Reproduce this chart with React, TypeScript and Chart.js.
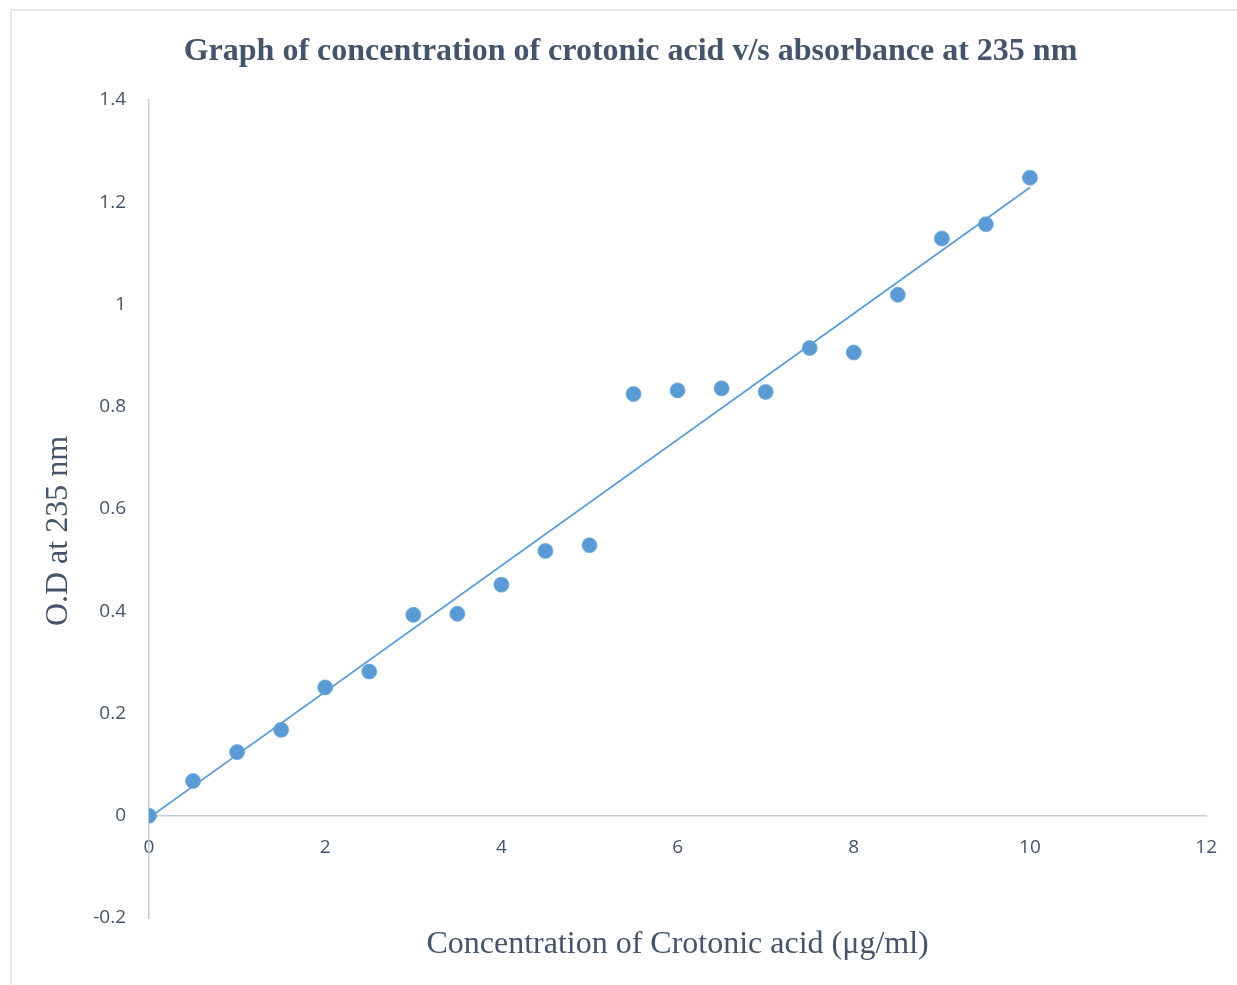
import React, { useEffect, useRef } from "react";
import { Chart, registerables } from "chart.js";

Chart.register(...registerables);

const concentrations = [0, 0.5, 1, 1.5, 2, 2.5, 3, 3.5, 4, 4.5, 5, 5.5, 6, 6.5, 7, 7.5, 8, 8.5, 9, 9.5, 10];
const absorbance = [0, 0.068, 0.1245, 0.168, 0.251, 0.282, 0.393, 0.395, 0.452, 0.518, 0.529, 0.825, 0.832, 0.836, 0.829, 0.915, 0.906, 1.019, 1.129, 1.157, 1.248];
const trendX = [0, 10];
const trendY = [-0.004, 1.229];
const xTicks = [0, 2, 4, 6, 8, 10, 12];
const yTicks = [-0.2, 0, 0.2, 0.4, 0.6, 0.8, 1, 1.2, 1.4];
const yTickLabels = ["-0.2", "0", "0.2", "0.4", "0.6", "0.8", "1", "1.2", "1.4"];

const chartTitle = "Graph of concentration of crotonic acid v/s absorbance at 235 nm";
const xTitle = "Concentration of Crotonic acid (\u03bcg/ml)";
const yTitle = "O.D at 235 nm";

const TEXT = "#44546a";
const BLUE = "#5b9bd5";
const AXIS = "#c3cad6";

export default function App() {
  const ref = useRef<HTMLCanvasElement | null>(null);

  useEffect(() => {
    document.body.style.margin = "0";
    const canvas = ref.current;
    if (!canvas) return;

    const textPlugin = {
      id: "textPlugin",
      beforeDraw(chart: any) {
        const ctx = chart.ctx;
        ctx.save();
        ctx.fillStyle = "#ffffff";
        ctx.fillRect(0, 0, chart.width, chart.height);
        ctx.strokeStyle = "#dde2ea";
        ctx.lineWidth = 1.5;
        ctx.beginPath();
        ctx.moveTo(11, chart.height + 5);
        ctx.lineTo(11, 10);
        ctx.lineTo(chart.width + 5, 10);
        ctx.stroke();
        ctx.restore();
      },
      afterDraw(chart: any) {
        const ctx = chart.ctx;
        const ca = chart.chartArea;
        ctx.save();
        ctx.fillStyle = TEXT;
        ctx.textAlign = "center";
        ctx.textBaseline = "alphabetic";
        ctx.font = 'bold 32px "Liberation Serif", "Times New Roman", serif';
        ctx.fillText(chartTitle, 630.5, 60);
        ctx.font = '32px "Liberation Serif", "Times New Roman", serif';
        ctx.fillText(xTitle, (ca.left + ca.right) / 2, 953);
        ctx.translate(67, 531);
        ctx.rotate(-Math.PI / 2);
        ctx.fillText(yTitle, 0, 0);
        ctx.restore();
      },
    };

    const tickFont = { family: '"Open Sans", sans-serif', size: 19 };

    const chart = new Chart(canvas, {
      type: "scatter",
      data: {
        datasets: [
          {
            label: "O.D",
            data: concentrations.map((x, i) => ({ x, y: absorbance[i] })),
            backgroundColor: BLUE,
            borderColor: "#6ea7da",
            borderWidth: 0.75,
            pointRadius: 7.5,
            pointHoverRadius: 7.5,
            order: 0,
          },
          {
            label: "Linear",
            data: trendX.map((x, i) => ({ x, y: trendY[i] })),
            showLine: true,
            borderColor: BLUE,
            borderWidth: 1.75,
            pointRadius: 0,
            fill: false,
            order: 1,
          },
        ],
      },
      options: {
        responsive: false,
        animation: false,
        layout: { padding: { left: 0, right: 29, top: 100, bottom: 67 } },
        plugins: {
          legend: { display: false },
          title: { display: false },
          tooltip: { enabled: false },
        },
        scales: {
          x: {
            type: "linear",
            position: { y: 0 } as any,
            min: 0,
            max: 12,
            grid: { display: false, drawTicks: false },
            border: { display: true, color: AXIS, width: 1.5 },
            afterBuildTicks: (axis: any) => {
              axis.ticks = xTicks.map((v) => ({ value: v }));
            },
            afterFit: (axis: any) => {
              axis.height = 0;
            },
            ticks: {
              padding: 20,
              color: TEXT,
              font: tickFont,
              maxRotation: 0,
              autoSkip: false,
              callback: (v: any) => String(v),
            },
          },
          y: {
            type: "linear",
            position: "left",
            min: -0.2,
            max: 1.4,
            grid: { display: false, drawTicks: false },
            border: { display: true, color: AXIS, width: 1.5 },
            afterBuildTicks: (axis: any) => {
              axis.ticks = yTicks.map((v) => ({ value: v }));
            },
            afterFit: (axis: any) => {
              axis.width = 149;
            },
            ticks: {
              padding: 23,
              color: TEXT,
              font: tickFont,
              autoSkip: false,
              callback: (v: any) => {
                const idx = yTicks.findIndex((t) => Math.abs(t - v) < 1e-9);
                return idx >= 0 ? yTickLabels[idx] : String(v);
              },
            },
          },
        },
      },
      plugins: [textPlugin],
    });

    return () => {
      chart.destroy();
    };
  }, []);

  return (
    <div style={{ width: 1237, height: 985, position: "relative" }}>
      <canvas ref={ref} width={1237} height={985} style={{ display: "block" }} />
    </div>
  );
}
